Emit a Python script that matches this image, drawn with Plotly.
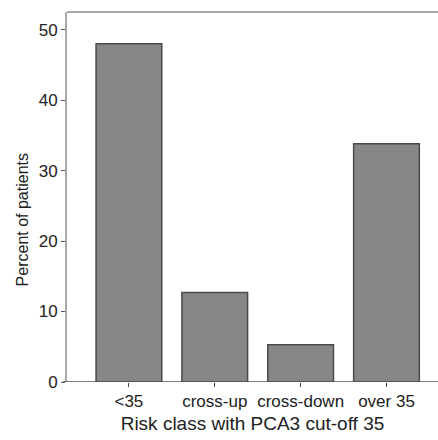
import plotly.graph_objects as go

categories = ["<35", "cross-up", "cross-down", "over 35"]
percents = [48.0, 12.7, 5.3, 33.8]
y_ticks = [0, 10, 20, 30, 40, 50]

FONT = "Liberation Sans, Arial, sans-serif"

fig = go.Figure()
fig.add_trace(go.Bar(
    x=list(range(len(categories))),
    y=percents,
    width=0.765,
    marker=dict(color="#878787", line=dict(color="#4a4a4a", width=1.5)),
))

fig.update_layout(
    width=438, height=440,
    margin=dict(l=67, r=0, t=12, b=58),
    plot_bgcolor="white", paper_bgcolor="white",
    showlegend=False,
    font=dict(family=FONT, color="#222222", size=16),
    xaxis=dict(
        range=[-0.721, 3.6],
        tickmode="array",
        tickvals=list(range(len(categories))),
        ticktext=categories,
        ticks="outside", ticklen=4, tickcolor="#444444", tickwidth=1,
        showline=False, showgrid=False, zeroline=False,
        tickfont=dict(size=17),
        title=dict(text="Risk class with PCA3 cut-off 35", font=dict(size=19), standoff=6),
    ),
    yaxis=dict(
        range=[0, 52.5],
        tickmode="array",
        tickvals=y_ticks,
        ticks="outside", ticklen=4, tickcolor="#555555", tickwidth=1,
        showline=True, linecolor="#a8a8a8", linewidth=2,
        showgrid=False, zeroline=False,
        tickfont=dict(size=17),
    ),
    annotations=[dict(
        text="Percent of patients", textangle=-90,
        xref="paper", yref="paper", x=-0.12, y=0.438,
        xanchor="center", yanchor="middle", showarrow=False,
        font=dict(size=16, family=FONT, color="#222222"),
    )],
)

# top border (light gray) and bottom baseline (dark) that extends left of y-axis
fig.add_shape(type="line", xref="paper", yref="paper", x0=0, x1=1, y0=1, y1=1,
              line=dict(color="#a8a8a8", width=2))
fig.add_shape(type="line", xref="paper", yref="y", x0=-0.011, x1=1, y0=0, y1=0,
              line=dict(color="#555555", width=1.5))

fig.write_html("out.html")
